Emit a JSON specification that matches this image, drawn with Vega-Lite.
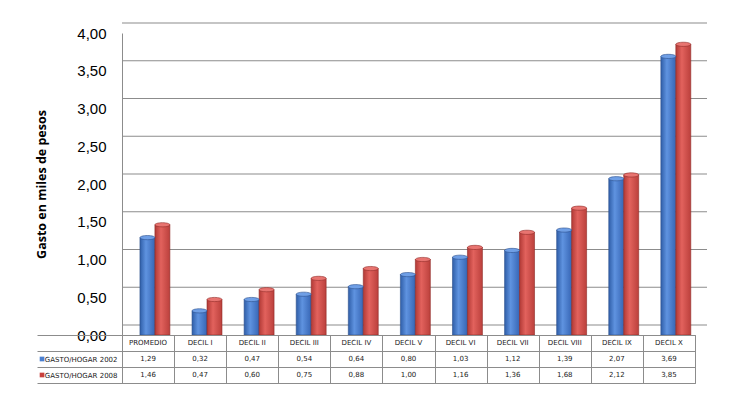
{
  "$schema": "https://vega.github.io/schema/vega-lite/v6.json",
  "padding": {"left": 35, "top": 22, "right": 5, "bottom": 5},
  "background": "white",
  "spacing": 0,
  "bounds": "flush",
  "config": {"font": "Liberation Sans", "axis": {"labelOverlap": false}},
  "datasets": {
    "gasto": [
      {"cat": "PROMEDIO", "serie": "GASTO/HOGAR 2002", "valor": 1.29},
      {"cat": "DECIL I", "serie": "GASTO/HOGAR 2002", "valor": 0.32},
      {"cat": "DECIL II", "serie": "GASTO/HOGAR 2002", "valor": 0.47},
      {"cat": "DECIL III", "serie": "GASTO/HOGAR 2002", "valor": 0.54},
      {"cat": "DECIL IV", "serie": "GASTO/HOGAR 2002", "valor": 0.64},
      {"cat": "DECIL V", "serie": "GASTO/HOGAR 2002", "valor": 0.80},
      {"cat": "DECIL VI", "serie": "GASTO/HOGAR 2002", "valor": 1.03},
      {"cat": "DECIL VII", "serie": "GASTO/HOGAR 2002", "valor": 1.12},
      {"cat": "DECIL VIII", "serie": "GASTO/HOGAR 2002", "valor": 1.39},
      {"cat": "DECIL IX", "serie": "GASTO/HOGAR 2002", "valor": 2.07},
      {"cat": "DECIL X", "serie": "GASTO/HOGAR 2002", "valor": 3.69},
      {"cat": "PROMEDIO", "serie": "GASTO/HOGAR 2008", "valor": 1.46},
      {"cat": "DECIL I", "serie": "GASTO/HOGAR 2008", "valor": 0.47},
      {"cat": "DECIL II", "serie": "GASTO/HOGAR 2008", "valor": 0.60},
      {"cat": "DECIL III", "serie": "GASTO/HOGAR 2008", "valor": 0.75},
      {"cat": "DECIL IV", "serie": "GASTO/HOGAR 2008", "valor": 0.88},
      {"cat": "DECIL V", "serie": "GASTO/HOGAR 2008", "valor": 1.00},
      {"cat": "DECIL VI", "serie": "GASTO/HOGAR 2008", "valor": 1.16},
      {"cat": "DECIL VII", "serie": "GASTO/HOGAR 2008", "valor": 1.36},
      {"cat": "DECIL VIII", "serie": "GASTO/HOGAR 2008", "valor": 1.68},
      {"cat": "DECIL IX", "serie": "GASTO/HOGAR 2008", "valor": 2.12},
      {"cat": "DECIL X", "serie": "GASTO/HOGAR 2008", "valor": 3.85}
    ],
    "grid": [{"v": 0}, {"v": 0.5}, {"v": 1}, {"v": 1.5}, {"v": 2}, {"v": 2.5}, {"v": 3}, {"v": 3.5}, {"v": 4}]
  },
  "vconcat": [
    {
      "width": 573,
      "height": 302,
      "view": {"stroke": null},
      "layer": [
        {
          "data": {"name": "grid"},
          "mark": {"type": "rule", "color": "#8c8c8c", "xOffset": 12, "yOffset": -10, "strokeWidth": 1.2},
          "encoding": {
            "y": {
              "field": "v", "type": "quantitative",
              "scale": {"domain": [0, 4], "nice": false, "zero": true},
              "axis": {
                "title": "Gasto en miles de pesos",
                "titleFont": "Open Sans", "titleFontSize": 12.5, "titleFontWeight": "bold", "titleColor": "#000",
                "titlePadding": 28,
                "labelFont": "Liberation Sans", "labelFontSize": 15, "labelColor": "#000", "labelPadding": 16,
                "labelOverlap": false, "tickCount": 9,
                "ticks": false, "grid": false, "domainColor": "#8c8c8c",
                "values": [0, 0.5, 1, 1.5, 2, 2.5, 3, 3.5, 4],
                "labelExpr": "replace(format(datum.value, '.2f'), '.', ',')"
              }
            }
          }
        },
        {
          "data": {"name": "gasto"},
          "transform": [{"filter": "datum.serie == 'GASTO/HOGAR 2002'"}],
          "mark": {
            "type": "bar",
            "stroke": "#2b4f8c", "strokeWidth": 0.6,
            "color": {"gradient": "linear", "x1": 0, "x2": 1, "y1": 0, "y2": 0,
              "stops": [{"offset": 0, "color": "#2f5ea8"}, {"offset": 0.4, "color": "#5f93e0"}, {"offset": 1, "color": "#3766b5"}]}
          },
          "encoding": {
            "x": {
              "field": "cat", "type": "nominal",
              "scale": {"domain": ["PROMEDIO", "DECIL I", "DECIL II", "DECIL III", "DECIL IV", "DECIL V", "DECIL VI", "DECIL VII", "DECIL VIII", "DECIL IX", "DECIL X"], "paddingInner": 0, "paddingOuter": 0},
              "axis": null
            },
            "xOffset": {"field": "serie", "type": "nominal", "scale": {"domain": ["GASTO/HOGAR 2002", "GASTO/HOGAR 2008"], "paddingInner": 0, "paddingOuter": 0.74, "align": 0.81}},
            "y": {
              "field": "valor", "type": "quantitative",
              "axis": {
                "title": "Gasto en miles de pesos",
                "titleFont": "Open Sans", "titleFontSize": 12.5, "titleFontWeight": "bold", "titleColor": "#000",
                "titlePadding": 28,
                "labelFont": "Liberation Sans", "labelFontSize": 15, "labelColor": "#000", "labelPadding": 16,
                "labelOverlap": false, "tickCount": 9,
                "ticks": false, "grid": false, "domainColor": "#8c8c8c",
                "values": [0, 0.5, 1, 1.5, 2, 2.5, 3, 3.5, 4],
                "labelExpr": "replace(format(datum.value, '.2f'), '.', ',')"
              }
            }
          }
        },
        {
          "data": {"name": "gasto"},
          "transform": [{"filter": "datum.serie == 'GASTO/HOGAR 2008'"}],
          "mark": {
            "type": "bar",
            "stroke": "#8e2a27", "strokeWidth": 0.6,
            "color": {"gradient": "linear", "x1": 0, "x2": 1, "y1": 0, "y2": 0,
              "stops": [{"offset": 0, "color": "#b23a36"}, {"offset": 0.4, "color": "#e2625d"}, {"offset": 1, "color": "#bb403c"}]}
          },
          "encoding": {
            "x": {"field": "cat", "type": "nominal", "axis": null},
            "xOffset": {"field": "serie", "type": "nominal"},
            "y": {"field": "valor", "type": "quantitative"}
          }
        },
        {
          "data": {"name": "gasto"},
          "transform": [{"filter": "datum.serie == 'GASTO/HOGAR 2002'"}],
          "mark": {"type": "point", "shape": "M-1,0A1,0.28,0,1,0,1,0A1,0.28,0,1,0,-1,0Z", "size": 225, "filled": true, "opacity": 1, "color": "#6f9fe6", "stroke": "#2b4f8c", "strokeWidth": 0.6},
          "encoding": {
            "x": {"field": "cat", "type": "nominal"},
            "xOffset": {"field": "serie", "type": "nominal"},
            "y": {"field": "valor", "type": "quantitative"}
          }
        },
        {
          "data": {"name": "gasto"},
          "transform": [{"filter": "datum.serie == 'GASTO/HOGAR 2008'"}],
          "mark": {"type": "point", "shape": "M-1,0A1,0.28,0,1,0,1,0A1,0.28,0,1,0,-1,0Z", "size": 225, "filled": true, "opacity": 1, "color": "#e87470", "stroke": "#8e2a27", "strokeWidth": 0.6},
          "encoding": {
            "x": {"field": "cat", "type": "nominal"},
            "xOffset": {"field": "serie", "type": "nominal"},
            "y": {"field": "valor", "type": "quantitative"}
          }
        }
      ]
    },
    {
      "width": 573,
      "height": 48,
      "view": {"stroke": "#8c8c8c"},
      "layer": [
        {
          "data": {"name": "gasto"},
          "transform": [{"calculate": "replace(format(datum.valor, '.2f'), '.', ',')", "as": "txt"}],
          "mark": {"type": "text", "font": "DejaVu Sans", "fontSize": 7, "color": "#222"},
          "encoding": {
            "x": {
              "field": "cat", "type": "nominal",
              "scale": {"domain": ["PROMEDIO", "DECIL I", "DECIL II", "DECIL III", "DECIL IV", "DECIL V", "DECIL VI", "DECIL VII", "DECIL VIII", "DECIL IX", "DECIL X"], "paddingInner": 0, "paddingOuter": 0},
              "axis": {"title": null, "labels": false, "ticks": false, "domain": false, "grid": true, "gridColor": "#8c8c8c", "tickBand": "extent"}
            },
            "y": {
              "field": "serie", "type": "nominal",
              "scale": {"domain": ["hdr", "GASTO/HOGAR 2002", "GASTO/HOGAR 2008"], "paddingInner": 0, "paddingOuter": 0},
              "axis": {
                "title": null,
                "labelExpr": "datum.value == 'hdr' ? '' : datum.value",
                "labelFont": "DejaVu Sans", "labelFontSize": 7, "labelColor": "#222",
                "labelPadding": -80, "labelBaseline": "middle",
                "ticks": true, "tickSize": 85, "tickColor": "#8c8c8c",
                "tickBand": "extent",
                "grid": true, "gridColor": "#8c8c8c",
                "domain": true, "domainColor": "#8c8c8c"
              }
            },
            "text": {"field": "txt", "type": "nominal"}
          }
        },
        {
          "data": {"name": "gasto"},
          "transform": [{"filter": "datum.serie == 'GASTO/HOGAR 2002'"}],
          "mark": {"type": "text", "font": "DejaVu Sans", "fontSize": 7, "color": "#222"},
          "encoding": {
            "x": {"field": "cat", "type": "nominal"},
            "y": {"datum": "hdr", "type": "nominal"},
            "text": {"field": "cat"}
          }
        },
        {
          "data": {"name": "gasto"},
          "transform": [{"filter": "datum.cat == 'PROMEDIO' && datum.serie == 'GASTO/HOGAR 2002'"}],
          "mark": {"type": "square", "size": 22, "opacity": 1, "color": "#4a7fd0", "xOffset": -106},
          "encoding": {
            "x": {"field": "cat", "type": "nominal"},
            "y": {"field": "serie", "type": "nominal"}
          }
        },
        {
          "data": {"name": "gasto"},
          "transform": [{"filter": "datum.cat == 'PROMEDIO' && datum.serie == 'GASTO/HOGAR 2008'"}],
          "mark": {"type": "square", "size": 22, "opacity": 1, "color": "#c8403c", "xOffset": -106},
          "encoding": {
            "x": {"field": "cat", "type": "nominal"},
            "y": {"field": "serie", "type": "nominal"}
          }
        }
      ]
    }
  ]
}
